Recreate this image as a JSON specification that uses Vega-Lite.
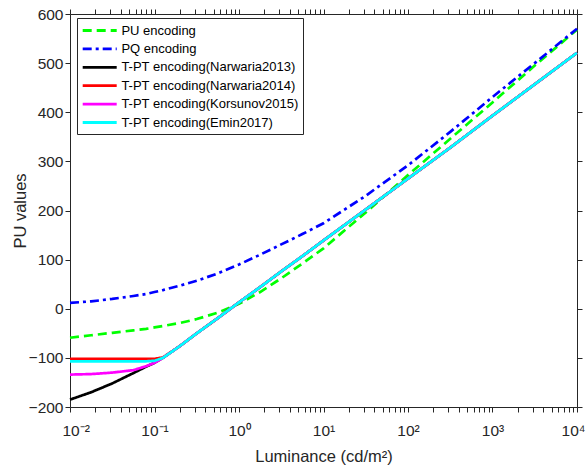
{
  "$schema": "https://vega.github.io/schema/vega-lite/v6.json",
  "width": 507,
  "height": 393,
  "autosize": {"type": "none"},
  "padding": {"left": 70, "top": 14, "right": 10, "bottom": 63},
  "background": "white",
  "config": {
    "font": "Liberation Sans",
    "view": {"stroke": "#262626", "strokeWidth": 1},
    "axis": {"grid": false, "domain": false, "zindex": 1, "labelFont": "Liberation Sans", "titleFont": "Liberation Sans", "labelColor": "#262626", "titleColor": "#262626", "tickColor": "#262626", "tickWidth": 1, "labelFontSize": 15.5, "titleFontSize": 16.5, "titleFontWeight": "normal"}
  },
  "data": {"values": [
    {"s": "PU encoding", "L": 0.01, "v": -59}, {"s": "PU encoding", "L": 0.01778, "v": -54}, {"s": "PU encoding", "L": 0.03162, "v": -49}, {"s": "PU encoding", "L": 0.05623, "v": -44}, {"s": "PU encoding", "L": 0.07943, "v": -41}, {"s": "PU encoding", "L": 0.1, "v": -38}, {"s": "PU encoding", "L": 0.1259, "v": -35}, {"s": "PU encoding", "L": 0.1995, "v": -29}, {"s": "PU encoding", "L": 0.3162, "v": -21}, {"s": "PU encoding", "L": 0.5623, "v": -8}, {"s": "PU encoding", "L": 1, "v": 10}, {"s": "PU encoding", "L": 1.778, "v": 34}, {"s": "PU encoding", "L": 3.162, "v": 62}, {"s": "PU encoding", "L": 5.623, "v": 92}, {"s": "PU encoding", "L": 10, "v": 123}, {"s": "PU encoding", "L": 31.62, "v": 196}, {"s": "PU encoding", "L": 100, "v": 272}, {"s": "PU encoding", "L": 316.2, "v": 346}, {"s": "PU encoding", "L": 1000, "v": 420}, {"s": "PU encoding", "L": 3162, "v": 495}, {"s": "PU encoding", "L": 10000, "v": 568},
    {"s": "PQ encoding", "L": 0.01, "v": 12}, {"s": "PQ encoding", "L": 0.01778, "v": 15}, {"s": "PQ encoding", "L": 0.03162, "v": 20}, {"s": "PQ encoding", "L": 0.05623, "v": 26}, {"s": "PQ encoding", "L": 0.07943, "v": 30}, {"s": "PQ encoding", "L": 0.1, "v": 34}, {"s": "PQ encoding", "L": 0.1259, "v": 38}, {"s": "PQ encoding", "L": 0.1995, "v": 47}, {"s": "PQ encoding", "L": 0.3162, "v": 57}, {"s": "PQ encoding", "L": 0.5623, "v": 72}, {"s": "PQ encoding", "L": 1, "v": 90}, {"s": "PQ encoding", "L": 1.778, "v": 110}, {"s": "PQ encoding", "L": 3.162, "v": 131}, {"s": "PQ encoding", "L": 5.623, "v": 152}, {"s": "PQ encoding", "L": 10, "v": 174}, {"s": "PQ encoding", "L": 31.62, "v": 230}, {"s": "PQ encoding", "L": 100, "v": 292}, {"s": "PQ encoding", "L": 316.2, "v": 360}, {"s": "PQ encoding", "L": 1000, "v": 431}, {"s": "PQ encoding", "L": 3162, "v": 500}, {"s": "PQ encoding", "L": 10000, "v": 570},
    {"s": "T-PT encoding(Narwaria2013)", "L": 0.01, "v": -185}, {"s": "T-PT encoding(Narwaria2013)", "L": 0.01778, "v": -170}, {"s": "T-PT encoding(Narwaria2013)", "L": 0.03162, "v": -152}, {"s": "T-PT encoding(Narwaria2013)", "L": 0.05623, "v": -131}, {"s": "T-PT encoding(Narwaria2013)", "L": 0.07943, "v": -118}, {"s": "T-PT encoding(Narwaria2013)", "L": 0.1, "v": -110}, {"s": "T-PT encoding(Narwaria2013)", "L": 0.1259, "v": -100}, {"s": "T-PT encoding(Narwaria2013)", "L": 0.1995, "v": -76}, {"s": "T-PT encoding(Narwaria2013)", "L": 0.3162, "v": -50}, {"s": "T-PT encoding(Narwaria2013)", "L": 0.5623, "v": -19}, {"s": "T-PT encoding(Narwaria2013)", "L": 1, "v": 13}, {"s": "T-PT encoding(Narwaria2013)", "L": 1.778, "v": 44}, {"s": "T-PT encoding(Narwaria2013)", "L": 3.162, "v": 76}, {"s": "T-PT encoding(Narwaria2013)", "L": 5.623, "v": 107}, {"s": "T-PT encoding(Narwaria2013)", "L": 10, "v": 139}, {"s": "T-PT encoding(Narwaria2013)", "L": 31.62, "v": 202}, {"s": "T-PT encoding(Narwaria2013)", "L": 100, "v": 265}, {"s": "T-PT encoding(Narwaria2013)", "L": 316.2, "v": 328}, {"s": "T-PT encoding(Narwaria2013)", "L": 1000, "v": 393}, {"s": "T-PT encoding(Narwaria2013)", "L": 3162, "v": 457}, {"s": "T-PT encoding(Narwaria2013)", "L": 10000, "v": 521},
    {"s": "T-PT encoding(Narwaria2014)", "L": 0.01, "v": -102}, {"s": "T-PT encoding(Narwaria2014)", "L": 0.01778, "v": -102}, {"s": "T-PT encoding(Narwaria2014)", "L": 0.03162, "v": -102}, {"s": "T-PT encoding(Narwaria2014)", "L": 0.05623, "v": -102}, {"s": "T-PT encoding(Narwaria2014)", "L": 0.07943, "v": -102}, {"s": "T-PT encoding(Narwaria2014)", "L": 0.1, "v": -102}, {"s": "T-PT encoding(Narwaria2014)", "L": 0.1259, "v": -99}, {"s": "T-PT encoding(Narwaria2014)", "L": 0.1995, "v": -76}, {"s": "T-PT encoding(Narwaria2014)", "L": 0.3162, "v": -50}, {"s": "T-PT encoding(Narwaria2014)", "L": 0.5623, "v": -19}, {"s": "T-PT encoding(Narwaria2014)", "L": 1, "v": 13}, {"s": "T-PT encoding(Narwaria2014)", "L": 1.778, "v": 44}, {"s": "T-PT encoding(Narwaria2014)", "L": 3.162, "v": 76}, {"s": "T-PT encoding(Narwaria2014)", "L": 5.623, "v": 107}, {"s": "T-PT encoding(Narwaria2014)", "L": 10, "v": 139}, {"s": "T-PT encoding(Narwaria2014)", "L": 31.62, "v": 202}, {"s": "T-PT encoding(Narwaria2014)", "L": 100, "v": 265}, {"s": "T-PT encoding(Narwaria2014)", "L": 316.2, "v": 328}, {"s": "T-PT encoding(Narwaria2014)", "L": 1000, "v": 393}, {"s": "T-PT encoding(Narwaria2014)", "L": 3162, "v": 457}, {"s": "T-PT encoding(Narwaria2014)", "L": 10000, "v": 521},
    {"s": "T-PT encoding(Korsunov2015)", "L": 0.01, "v": -134}, {"s": "T-PT encoding(Korsunov2015)", "L": 0.01778, "v": -133}, {"s": "T-PT encoding(Korsunov2015)", "L": 0.03162, "v": -130}, {"s": "T-PT encoding(Korsunov2015)", "L": 0.05623, "v": -125}, {"s": "T-PT encoding(Korsunov2015)", "L": 0.07943, "v": -117}, {"s": "T-PT encoding(Korsunov2015)", "L": 0.1, "v": -110}, {"s": "T-PT encoding(Korsunov2015)", "L": 0.1259, "v": -100}, {"s": "T-PT encoding(Korsunov2015)", "L": 0.1995, "v": -76}, {"s": "T-PT encoding(Korsunov2015)", "L": 0.3162, "v": -50}, {"s": "T-PT encoding(Korsunov2015)", "L": 0.5623, "v": -19}, {"s": "T-PT encoding(Korsunov2015)", "L": 1, "v": 13}, {"s": "T-PT encoding(Korsunov2015)", "L": 1.778, "v": 44}, {"s": "T-PT encoding(Korsunov2015)", "L": 3.162, "v": 76}, {"s": "T-PT encoding(Korsunov2015)", "L": 5.623, "v": 107}, {"s": "T-PT encoding(Korsunov2015)", "L": 10, "v": 139}, {"s": "T-PT encoding(Korsunov2015)", "L": 31.62, "v": 202}, {"s": "T-PT encoding(Korsunov2015)", "L": 100, "v": 265}, {"s": "T-PT encoding(Korsunov2015)", "L": 316.2, "v": 328}, {"s": "T-PT encoding(Korsunov2015)", "L": 1000, "v": 393}, {"s": "T-PT encoding(Korsunov2015)", "L": 3162, "v": 457}, {"s": "T-PT encoding(Korsunov2015)", "L": 10000, "v": 521},
    {"s": "T-PT encoding(Emin2017)", "L": 0.01, "v": -107}, {"s": "T-PT encoding(Emin2017)", "L": 0.01778, "v": -107}, {"s": "T-PT encoding(Emin2017)", "L": 0.03162, "v": -107}, {"s": "T-PT encoding(Emin2017)", "L": 0.05623, "v": -107}, {"s": "T-PT encoding(Emin2017)", "L": 0.07943, "v": -107}, {"s": "T-PT encoding(Emin2017)", "L": 0.1, "v": -106}, {"s": "T-PT encoding(Emin2017)", "L": 0.1259, "v": -100}, {"s": "T-PT encoding(Emin2017)", "L": 0.1995, "v": -76}, {"s": "T-PT encoding(Emin2017)", "L": 0.3162, "v": -50}, {"s": "T-PT encoding(Emin2017)", "L": 0.5623, "v": -19}, {"s": "T-PT encoding(Emin2017)", "L": 1, "v": 13}, {"s": "T-PT encoding(Emin2017)", "L": 1.778, "v": 44}, {"s": "T-PT encoding(Emin2017)", "L": 3.162, "v": 76}, {"s": "T-PT encoding(Emin2017)", "L": 5.623, "v": 107}, {"s": "T-PT encoding(Emin2017)", "L": 10, "v": 139}, {"s": "T-PT encoding(Emin2017)", "L": 31.62, "v": 202}, {"s": "T-PT encoding(Emin2017)", "L": 100, "v": 265}, {"s": "T-PT encoding(Emin2017)", "L": 316.2, "v": 328}, {"s": "T-PT encoding(Emin2017)", "L": 1000, "v": 393}, {"s": "T-PT encoding(Emin2017)", "L": 3162, "v": 457}, {"s": "T-PT encoding(Emin2017)", "L": 10000, "v": 521}
  ]},
  "layer": [
    {
      "mark": {"type": "line", "strokeWidth": 2.7},
      "encoding": {
        "x": {"field": "L", "type": "quantitative", "scale": {"type": "log", "domain": [0.01, 10000], "nice": false},
          "axis": {"orient": "bottom", "title": "Luminance (cd/m²)", "titlePadding": 10,
            "values": [0.01,0.02,0.03,0.04,0.05,0.06,0.07,0.08,0.09,0.1,0.2,0.3,0.4,0.5,0.6,0.7,0.8,0.9,1,2,3,4,5,6,7,8,9,10,20,30,40,50,60,70,80,90,100,200,300,400,500,600,700,800,900,1000,2000,3000,4000,5000,6000,7000,8000,9000,10000],
            "labelExpr": "datum.value == 0.01 ? '10⁻²' : datum.value == 0.1 ? '10⁻¹' : datum.value == 1 ? '10⁰' : datum.value == 10 ? '10¹' : datum.value == 100 ? '10²' : datum.value == 1000 ? '10³' : datum.value == 10000 ? '10⁴' : ''",
            "labelOverlap": false, "labelFlush": true, "labelFlushOffset": 8, "labelPadding": 11, "tickSize": 5,
            "encode": {"ticks": {"enter": {"y2": {"signal": "indexof([0.01,0.1,1,10,100,1000,10000], datum.value) >= 0 ? -5 : -3"}}, "update": {"y2": {"signal": "indexof([0.01,0.1,1,10,100,1000,10000], datum.value) >= 0 ? -5 : -3"}}}}}},
        "y": {"field": "v", "type": "quantitative", "scale": {"domain": [-200, 600], "nice": false},
          "axis": {"orient": "left", "title": "PU values", "values": [-200,-100,0,100,200,300,400,500,600], "tickSize": 5, "labelPadding": 2, "titlePadding": 0,
            "encode": {"ticks": {"enter": {"x2": {"value": 5}}, "update": {"x2": {"value": 5}}}}}},
        "color": {"field": "s", "type": "nominal",
          "scale": {"domain": ["PU encoding", "PQ encoding", "T-PT encoding(Narwaria2013)", "T-PT encoding(Narwaria2014)", "T-PT encoding(Korsunov2015)", "T-PT encoding(Emin2017)"],
            "range": ["#00ff00", "#0000ff", "#000000", "#ff0000", "#ff00ff", "#00ffff"]},
          "legend": {"title": null, "orient": "none", "legendX": 7, "legendY": 4, "strokeColor": "#262626", "fillColor": "white", "padding": 4, "symbolType": "M-1,0H4", "symbolSize": 185, "symbolStrokeWidth": 2.8, "labelFont": "Liberation Sans", "labelFontSize": 13, "labelColor": "#000000", "labelLimit": 300, "labelOffset": 23.4, "rowPadding": 2.4, "cornerRadius": 0}},
        "strokeDash": {"field": "s", "type": "nominal",
          "scale": {"domain": ["PU encoding", "PQ encoding", "T-PT encoding(Narwaria2013)", "T-PT encoding(Narwaria2014)", "T-PT encoding(Korsunov2015)", "T-PT encoding(Emin2017)"],
            "range": [[9, 5], [9, 4, 3, 4], [1, 0], [1, 0], [1, 0], [1, 0]]},
          "legend": {"title": null, "orient": "none", "legendX": 7, "legendY": 4, "strokeColor": "#262626", "fillColor": "white", "padding": 4, "symbolType": "M-1,0H4", "symbolSize": 185, "symbolStrokeWidth": 2.8, "labelFont": "Liberation Sans", "labelFontSize": 13, "labelColor": "#000000", "labelLimit": 300, "labelOffset": 23.4, "rowPadding": 2.4, "cornerRadius": 0}}
      }
    },
    {
      "mark": {"type": "point", "opacity": 0},
      "encoding": {
        "x": {"field": "L", "type": "quantitative", "scale": {"type": "log", "domain": [0.01, 10000], "nice": false},
          "axis": {"orient": "top", "title": null, "labels": false, "tickSize": 5,
            "values": [0.01,0.02,0.03,0.04,0.05,0.06,0.07,0.08,0.09,0.1,0.2,0.3,0.4,0.5,0.6,0.7,0.8,0.9,1,2,3,4,5,6,7,8,9,10,20,30,40,50,60,70,80,90,100,200,300,400,500,600,700,800,900,1000,2000,3000,4000,5000,6000,7000,8000,9000,10000],
            "encode": {"ticks": {"enter": {"y2": {"signal": "indexof([0.01,0.1,1,10,100,1000,10000], datum.value) >= 0 ? 5 : 3"}}, "update": {"y2": {"signal": "indexof([0.01,0.1,1,10,100,1000,10000], datum.value) >= 0 ? 5 : 3"}}}}}},
        "y": {"field": "v", "type": "quantitative", "scale": {"domain": [-200, 600], "nice": false},
          "axis": {"orient": "right", "title": null, "labels": false, "values": [-200,-100,0,100,200,300,400,500,600], "tickSize": 5,
            "encode": {"ticks": {"enter": {"x2": {"value": -5}}, "update": {"x2": {"value": -5}}}}}}
      }
    }
  ],
  "resolve": {"axis": {"x": "independent", "y": "independent"}}
}
